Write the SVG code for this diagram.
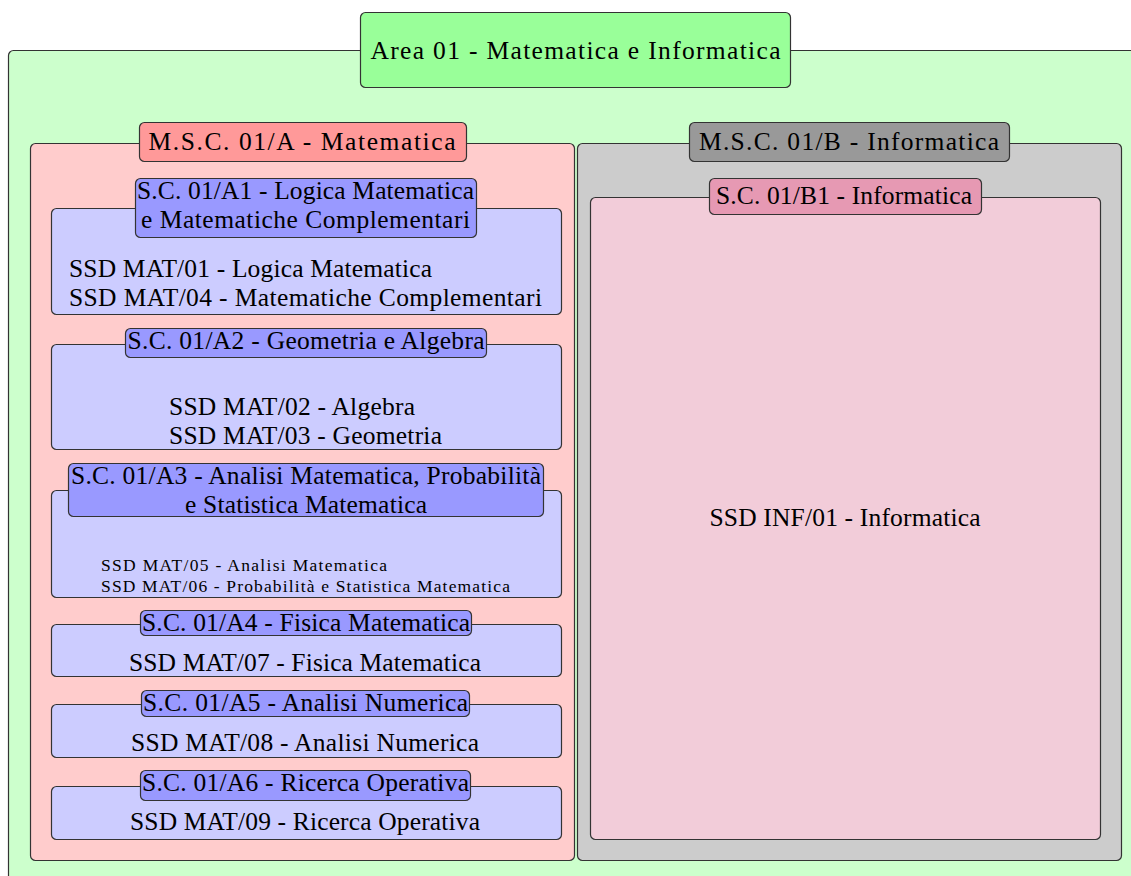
<svg xmlns="http://www.w3.org/2000/svg" width="1131" height="876" viewBox="0 0 1131 876">
<style>
rect{stroke:#333;stroke-width:1.2}
text{font-family:"Liberation Serif","Times New Roman",serif;fill:#000}
.big{font-size:25.5px}
.sm{font-size:17.5px}
.c{text-anchor:middle}
.green{fill:#ccffcc}.green2{fill:#99ff99}
.red{fill:#ffcccc}.red2{fill:#ff9999}
.gray{fill:#cccccc}.gray2{fill:#999999}
.pink{fill:#f2ccd9}.pink2{fill:#e699b3}
.blue{fill:#ccccff}.blue2{fill:#9999ff}
</style>
<rect width="1131" height="876" fill="#fff" style="stroke:none"/>
<g id="area01">
<rect class="green" x="8.5" y="50.5" width="1140" height="900" rx="5"/>
<rect class="green2" x="360.5" y="12.5" width="430" height="75" rx="5"/>
<text class="big c" x="575.5" y="59" textLength="410">Area 01 - Matematica e Informatica</text>
</g>
<g id="msc01A">
<rect class="red" x="30.5" y="143.5" width="544" height="717" rx="5"/>
<rect class="red2" x="139.5" y="122.5" width="327" height="39" rx="5"/>
<text class="big c" x="302" y="150" textLength="307">M.S.C. 01/A - Matematica</text>
</g>
<g id="msc01B">
<rect class="gray" x="577.5" y="143.5" width="544" height="717" rx="5"/>
<rect class="gray2" x="689.5" y="122.5" width="320" height="39" rx="5"/>
<text class="big c" x="849" y="150" textLength="300">M.S.C. 01/B - Informatica</text>
</g>
<g id="sc01B1">
<rect class="pink" x="590.5" y="197.5" width="510" height="642" rx="5"/>
<rect class="pink2" x="709.5" y="178.5" width="272" height="36" rx="5"/>
<text class="big c" x="844" y="204" textLength="256">S.C. 01/B1 - Informatica</text>
<text class="big c" x="845" y="526" textLength="271">SSD INF/01 - Informatica</text>
</g>
<g id="sc01A1">
<rect class="blue" x="51.5" y="208.5" width="510" height="106" rx="5"/>
<rect class="blue2" x="135.5" y="178.5" width="341" height="59" rx="5"/>
<text class="big c" x="305.5" y="199" textLength="337">S.C. 01/A1 - Logica Matematica</text>
<text class="big c" x="305.5" y="228" textLength="329">e Matematiche Complementari</text>
<text class="big" x="69" y="277" textLength="363">SSD MAT/01 - Logica Matematica</text>
<text class="big" x="69" y="306" textLength="473">SSD MAT/04 - Matematiche Complementari</text>
</g>
<g id="sc01A2">
<rect class="blue" x="51.5" y="344.5" width="510" height="105" rx="5"/>
<rect class="blue2" x="125.5" y="328.5" width="361" height="29" rx="5"/>
<text class="big c" x="306" y="349" textLength="357">S.C. 01/A2 - Geometria e Algebra</text>
<text class="big" x="169" y="415" textLength="246">SSD MAT/02 - Algebra</text>
<text class="big" x="169" y="444" textLength="273">SSD MAT/03 - Geometria</text>
</g>
<g id="sc01A3">
<rect class="blue" x="51.5" y="490.5" width="510" height="107" rx="5"/>
<rect class="blue2" x="68.5" y="463.5" width="475" height="53" rx="5"/>
<text class="big c" x="306" y="484" textLength="470">S.C. 01/A3 - Analisi Matematica, Probabilità</text>
<text class="big c" x="306" y="513" textLength="242">e Statistica Matematica</text>
<text class="sm" x="101" y="571" textLength="286">SSD MAT/05 - Analisi Matematica</text>
<text class="sm" x="101" y="592" textLength="409">SSD MAT/06 - Probabilità e Statistica Matematica</text>
</g>
<g id="sc01A4">
<rect class="blue" x="51.5" y="624.5" width="510" height="52" rx="5"/>
<rect class="blue2" x="140.5" y="610.5" width="331" height="25" rx="5"/>
<text class="big c" x="306" y="631" textLength="328">S.C. 01/A4 - Fisica Matematica</text>
<text class="big c" x="305" y="671" textLength="352">SSD MAT/07 - Fisica Matematica</text>
</g>
<g id="sc01A5">
<rect class="blue" x="51.5" y="704.5" width="510" height="53" rx="5"/>
<rect class="blue2" x="141.5" y="690.5" width="328" height="26" rx="5"/>
<text class="big c" x="305.5" y="711" textLength="325">S.C. 01/A5 - Analisi Numerica</text>
<text class="big c" x="305" y="751" textLength="348">SSD MAT/08 - Analisi Numerica</text>
</g>
<g id="sc01A6">
<rect class="blue" x="51.5" y="786.5" width="510" height="53" rx="5"/>
<rect class="blue2" x="140.5" y="770.5" width="330" height="30" rx="5"/>
<text class="big c" x="305.5" y="791" textLength="327">S.C. 01/A6 - Ricerca Operativa</text>
<text class="big c" x="305" y="830" textLength="350">SSD MAT/09 - Ricerca Operativa</text>
</g>
<g id="connectors"/>
</svg>
